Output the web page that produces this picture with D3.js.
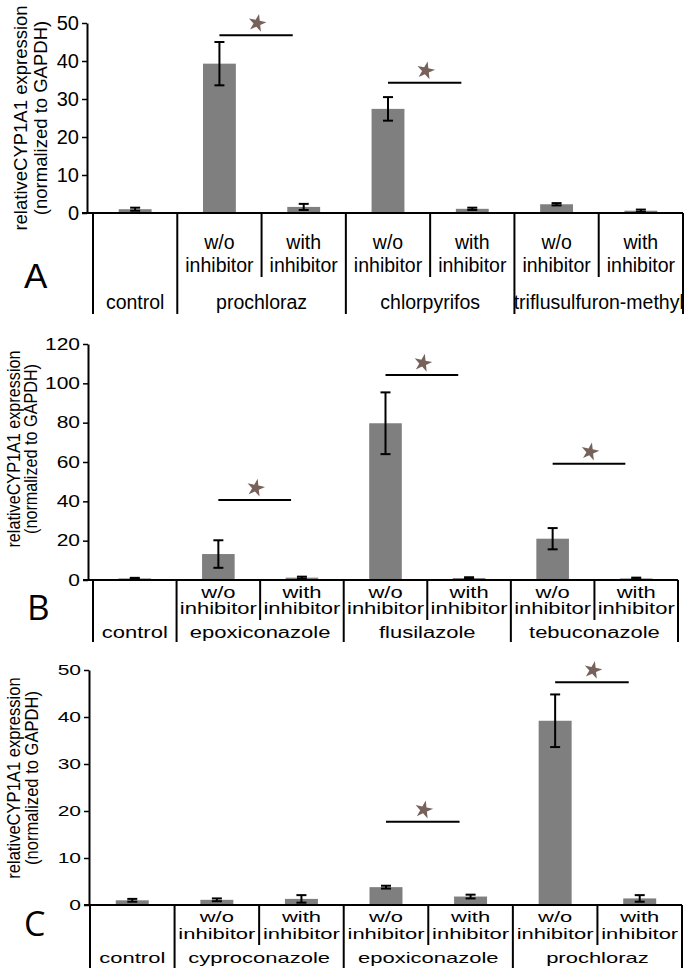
<!DOCTYPE html>
<html lang="en">
<head>
    <meta charset="UTF-8">
    <title>CYP1A1 expression</title>
    <script src="https://d3js.org/d3.v7.min.js"></script>
    <style>
        body { margin: 0; background: #fff; }
        svg text { font-family: "Liberation Sans", Arial, sans-serif; fill: #000; }
    </style>
</head>
<body>
<svg id="chart" width="688" height="974"></svg>
<script>
    // ---- data ----
    // bars: control, then per group "w/o inhibitor" and "with inhibitor"
    const groupsA = ["control", "prochloraz", "chlorpyrifos", "triflusulfuron-methyl"];
    const meansA = [1.0, 39.3, 1.6, 27.4, 1.1, 2.3, 0.6];
    const sdA = [0.4, 5.7, 0.8, 3.1, 0.3, 0.3, 0.3];
    const sigA = [null, 46.8, 34.3, null];
    const ticksA = [0, 10, 20, 30, 40, 50];

    const groupsB = ["control", "epoxiconazole", "flusilazole", "tebuconazole"];
    const meansB = [0.8, 13.2, 1.2, 79.7, 1.0, 21.0, 0.8];
    const sdB = [0.3, 7.0, 0.5, 15.7, 0.4, 5.4, 0.4];
    const sigB = [null, 40.7, 104.2, 59.1];
    const ticksB = [0, 20, 40, 60, 80, 100, 120];

    const groupsC = ["control", "cyproconazole", "epoxiconazole", "prochloraz"];
    const meansC = [1.0, 1.1, 1.3, 3.8, 1.8, 39.2, 1.4];
    const sdC = [0.3, 0.3, 0.8, 0.3, 0.4, 5.6, 0.7];
    const sigC = [null, null, 17.7, 47.4];
    const ticksC = [0, 10, 20, 30, 40, 50];

    const subLabels = [["w/o", "inhibitor"], ["with", "inhibitor"]];
    const yTitle = ["relativeCYP1A1 expression", "(normalized to GAPDH)"];

    const svg = d3.select("#chart");

    function drawPanel(p) {
        const g = svg.append("g");
        const x = d3.scaleBand().domain(d3.range(p.means.length)).range(p.xRange);
        const y = d3.scaleLinear().domain([0, d3.max(p.ticks)]).range([p.y0, p.yTop]);
        const bw = x.bandwidth();
        const barW = bw * 0.39;
        const cx = i => x(i) + bw / 2;

        // bars
        g.selectAll("rect.bar").data(p.means).join("rect")
            .attr("class", "bar")
            .attr("x", (d, i) => cx(i) - barW / 2)
            .attr("width", barW)
            .attr("y", d => y(d))
            .attr("height", d => p.y0 - y(d))
            .attr("fill", "#7f7f7f");

        // error bars
        const eb = g.selectAll("g.err").data(p.means).join("g").attr("class", "err");
        eb.append("line")
            .attr("x1", (d, i) => cx(i)).attr("x2", (d, i) => cx(i))
            .attr("y1", (d, i) => y(d + p.sd[i])).attr("y2", (d, i) => y(d - p.sd[i]));
        eb.append("line")
            .attr("x1", (d, i) => cx(i) - 5).attr("x2", (d, i) => cx(i) + 5)
            .attr("y1", (d, i) => y(d + p.sd[i])).attr("y2", (d, i) => y(d + p.sd[i]));
        eb.append("line")
            .attr("x1", (d, i) => cx(i) - 5).attr("x2", (d, i) => cx(i) + 5)
            .attr("y1", (d, i) => y(d - p.sd[i])).attr("y2", (d, i) => y(d - p.sd[i]));
        eb.selectAll("line").attr("stroke", "#000").attr("stroke-width", 2);

        // y axis
        const ax = g.append("g")
            .attr("transform", `translate(${p.xAxis},0)`)
            .call(d3.axisLeft(y).tickValues(p.ticks).tickSize(5).tickSizeOuter(0).tickPadding(3));
        ax.select(".domain").attr("stroke-width", 2);
        ax.selectAll(".tick line").attr("stroke-width", 1.5);
        ax.selectAll(".tick text")
            .style("font-size", p.tickFont + "px")
            .style("font-family", "'Liberation Sans', Arial, sans-serif")
            .attr("transform", `scale(1,${p.tickSy})`);

        // baseline
        g.append("line")
            .attr("x1", p.xAxis - 5).attr("x2", p.xRange[1])
            .attr("y1", p.y0).attr("y2", p.y0)
            .attr("stroke", "#000").attr("stroke-width", 2);

        // category table separators
        const fullEdges = [x(0), x(1), x(3), x(5), p.xRange[1]];
        const shortEdges = [x(2), x(4), x(6)];
        g.selectAll("line.full").data(fullEdges).join("line")
            .attr("x1", d => d).attr("x2", d => d)
            .attr("y1", p.y0).attr("y2", p.fullEnd)
            .attr("stroke", "#000").attr("stroke-width", 2);
        g.selectAll("line.short").data(shortEdges).join("line")
            .attr("x1", d => d).attr("x2", d => d)
            .attr("y1", p.y0).attr("y2", p.shortEnd)
            .attr("stroke", "#000").attr("stroke-width", 2);

        // sub labels (w/o / with inhibitor)
        for (let i = 1; i < p.means.length; i++) {
            const lab = subLabels[(i - 1) % 2];
            [p.woY, p.inhY].forEach((yy, k) => {
                g.append("text")
                    .attr("transform", `translate(${cx(i)},${yy}) scale(1,${p.labSy})`)
                    .attr("text-anchor", "middle")
                    .attr("dy", "0.35em")
                    .style("font-size", p.labFont + "px")
                    .text(lab[k]);
            });
        }

        // group labels
        p.groups.forEach((name, gi) => {
            const mid = gi === 0 ? cx(0) : (x(2 * gi - 1) + x(2 * gi) + bw) / 2;
            g.append("text")
                .attr("transform", `translate(${mid},${p.grpY}) scale(1,${p.labSy})`)
                .attr("text-anchor", "middle")
                .attr("dy", "0.35em")
                .style("font-size", p.labFont + "px")
                .text(name);
        });

        // significance lines and stars
        p.sig.forEach((v, gi) => {
            if (v === null) return;
            const x1 = cx(2 * gi - 1);
            const x2 = cx(2 * gi) - bw * 0.13;
            const yy = y(v);
            g.append("line")
                .attr("x1", x1).attr("x2", x2).attr("y1", yy).attr("y2", yy)
                .attr("stroke", "#000").attr("stroke-width", 2);
            g.append("path")
                .attr("d", d3.symbol(d3.symbolStar, 100)())
                .attr("transform", `translate(${(x1 + x2) / 2 + 1},${yy - 12}) rotate(12)`)
                .attr("fill", "#76625a");
        });

        // y title
        yTitle.forEach((t, k) => {
            g.append("text")
                .attr("transform", `translate(${p.titleX[k]},${p.titleY}) rotate(-90) scale(${p.titleSx},1)`)
                .attr("text-anchor", "middle")
                .attr("dy", "0.35em")
                .style("font-size", p.titleFont + "px")
                .text(t);
        });

        // panel letter
        g.append("text")
            .attr("x", p.letterX).attr("y", p.letterY)
            .style("font-size", p.letterFont + "px")
            .style("font-family", p.letterFamily)
            .text(p.letter);
    }

    drawPanel({
        groups: groupsA, means: meansA, sd: sdA, sig: sigA, ticks: ticksA,
        yTop: 23, y0: 213, xAxis: 87, xRange: [93, 683],
        tickFont: 20, tickSy: 1, labFont: 19.5, labSy: 1,
        woY: 242, inhY: 265, grpY: 302, shortEnd: 277, fullEnd: 314,
        titleFont: 18.5, titleSx: 1, titleX: [21, 41], titleY: 118,
        letter: "A", letterX: 24, letterY: 288, letterFont: 35, letterFamily: "'Liberation Sans', Arial, sans-serif"
    });

    drawPanel({
        groups: groupsB, means: meansB, sd: sdB, sig: sigB, ticks: ticksB,
        yTop: 344, y0: 580, xAxis: 88, xRange: [93, 678],
        tickFont: 21, tickSy: 0.75, labFont: 22, labSy: 0.72,
        woY: 592, inhY: 608, grpY: 632, shortEnd: 620, fullEnd: 642,
        titleFont: 18, titleSx: 0.9, titleX: [14, 31], titleY: 449,
        letter: "B", letterX: 27, letterY: 620, letterFont: 35, letterFamily: "'Open Sans', sans-serif"
    });

    drawPanel({
        groups: groupsC, means: meansC, sd: sdC, sig: sigC, ticks: ticksC,
        yTop: 670, y0: 905, xAxis: 89, xRange: [90, 682],
        tickFont: 21, tickSy: 0.7, labFont: 22, labSy: 0.7,
        woY: 917, inhY: 934, grpY: 958, shortEnd: 945, fullEnd: 968,
        titleFont: 18, titleSx: 0.92, titleX: [14, 32], titleY: 778,
        letter: "C", letterX: 24, letterY: 936, letterFont: 34, letterFamily: "'Open Sans', sans-serif"
    });
</script>
</body>
</html>
